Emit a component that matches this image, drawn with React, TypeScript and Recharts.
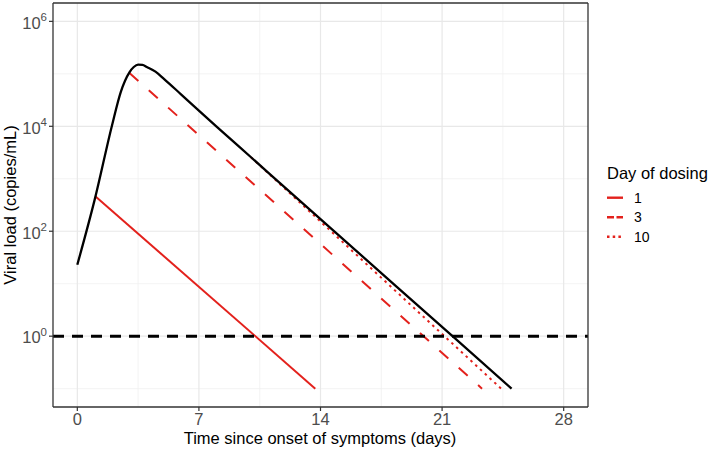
import React from 'react';
import { LineChart, Line, XAxis, YAxis, CartesianGrid, ReferenceLine } from 'recharts';

// Black curve: untreated viral load
const blackDays = [0, 1, 2, 2.5, 3, 3.25, 3.5, 3.75, 4, 4.5, 5, 6, 8, 10, 14, 21.6, 25];
const blackLoad = [23, 400, 10500, 45000, 107000, 135000, 150000, 148000, 135000, 110000, 79400, 39800, 10000, 2570, 170, 1, 0.1];

// Red curves: treatment starting at day 1, 3, 10
const dose1Days = [1.05, 13.7];
const dose1Load = [460, 0.1];
const dose3Days = [3, 23.3];
const dose3Load = [104000, 0.1];
const dose10Days = [10, 24.4];
const dose10Load = [2570, 0.1];

const xTicks = [0, 7, 14, 21, 28];
const xMinor = [3.5, 10.5, 17.5, 24.5];
const yTicks = [1, 100, 10000, 1000000];
const yMinor = [0.1, 10, 1000, 100000];
const thresholdLoad = 1;

const legendTitle = 'Day of dosing';
const legendLabels = ['1', '3', '10'];
const xTitle = 'Time since onset of symptoms (days)';
const yTitle = 'Viral load (copies/mL)';

const FONT = "'Liberation Sans', Arial, Helvetica, sans-serif";
const RED = '#E3211C';
const X_DOMAIN: [number, number] = [-1.4, 29.4];
const Y_DOMAIN: [number, number] = [Math.pow(10, -1.35), Math.pow(10, 6.35)];

const zip = (d: number[], v: number[]) => d.map((x, i) => ({ day: x, load: v[i] }));

const legendDash = ['', '7 2.5', '2.5 3.2'];

const YTick = (props: any) => {
  const { y, payload } = props;
  const exp = Math.round(Math.log10(payload.value));
  return (
    <text x={47} y={y + 7.3} textAnchor="end" fontFamily={FONT} fontSize={16.5} fill="#4D4D4D">
      <tspan>10</tspan>
      <tspan dy={-7.5} fontSize={11.5}>{exp}</tspan>
    </text>
  );
};

const XTick = (props: any) => {
  const { x, payload } = props;
  return (
    <text x={x} y={425} textAnchor="middle" fontFamily={FONT} fontSize={16.5} fill="#4D4D4D">
      {payload.value}
    </text>
  );
};

const LegendBox = () => (
  <svg width={113} height={90} style={{ position: 'absolute', left: 596, top: 160, display: 'block' }}>
    <text x={11} y={19} fontFamily={FONT} fontSize={16.5} fill="#000">{legendTitle}</text>
    {legendLabels.map((lab, i) => {
      const cy = 37.7 + i * 19.5;
      return (
        <g key={lab}>
          <line x1={11} x2={27} y1={cy} y2={cy} stroke={RED} strokeWidth={2.4}
            strokeDasharray={legendDash[i] || undefined} />
          <text x={38} y={cy + 5} fontFamily={FONT} fontSize={14} fill="#000">{lab}</text>
        </g>
      );
    })}
  </svg>
);

export default function App() {
  return (
    <div style={{ position: 'absolute', left: 0, top: 0, width: 709, height: 451, background: '#fff' }}>
      <LineChart width={709} height={451} margin={{ top: 3, right: 121, left: 0, bottom: 0 }}>
        <CartesianGrid horizontalValues={yMinor} verticalValues={xMinor} stroke="#F0F0F0" strokeWidth={0.8} />
        <CartesianGrid horizontalValues={yTicks} verticalValues={xTicks} stroke="#E8E8E8" strokeWidth={1.2} />
        <XAxis
          dataKey="day"
          type="number"
          domain={X_DOMAIN}
          ticks={xTicks}
          allowDataOverflow
          height={44}
          tick={<XTick />}
          tickSize={4}
          tickLine={{ stroke: '#333', strokeWidth: 1.2 }}
          axisLine={{ stroke: '#333', strokeWidth: 1.3 }}
          label={() => (
            <text x={320} y={444} textAnchor="middle" fontFamily={FONT} fontSize={16.5} fill="#000">{xTitle}</text>
          )}
        />
        <YAxis
          dataKey="load"
          type="number"
          scale="log"
          domain={Y_DOMAIN}
          ticks={yTicks}
          allowDataOverflow
          width={53}
          tick={<YTick />}
          tickSize={4}
          tickLine={{ stroke: '#333', strokeWidth: 1.2 }}
          axisLine={{ stroke: '#333', strokeWidth: 1.3 }}
          label={() => (
            <text x={16} y={205} textAnchor="middle" transform="rotate(-90, 16, 205)"
              fontFamily={FONT} fontSize={16.5} fill="#000">{yTitle}</text>
          )}
        />
        <Line data={zip(dose1Days, dose1Load)} dataKey="load" type="linear" stroke={RED} strokeWidth={2}
          dot={false} isAnimationActive={false} name="1" />
        <Line data={zip(dose3Days, dose3Load)} dataKey="load" type="linear" stroke={RED} strokeWidth={2}
          strokeDasharray="12 14" dot={false} isAnimationActive={false} name="3" />
        <Line data={zip(dose10Days, dose10Load)} dataKey="load" type="linear" stroke={RED} strokeWidth={2}
          strokeDasharray="2.5 4" dot={false} isAnimationActive={false} name="10" />
        <Line data={zip(blackDays, blackLoad)} dataKey="load" type="monotone" stroke="#000" strokeWidth={2.3}
          dot={false} isAnimationActive={false} />
        <ReferenceLine y={thresholdLoad} stroke="#000" strokeWidth={3} strokeDasharray="11 8" />
        <ReferenceLine x={X_DOMAIN[1]} stroke="#333" strokeWidth={1.3} ifOverflow="visible" />
        <ReferenceLine y={Y_DOMAIN[1]} stroke="#333" strokeWidth={1.3} ifOverflow="visible" />
      </LineChart>
      <LegendBox />
    </div>
  );
}
